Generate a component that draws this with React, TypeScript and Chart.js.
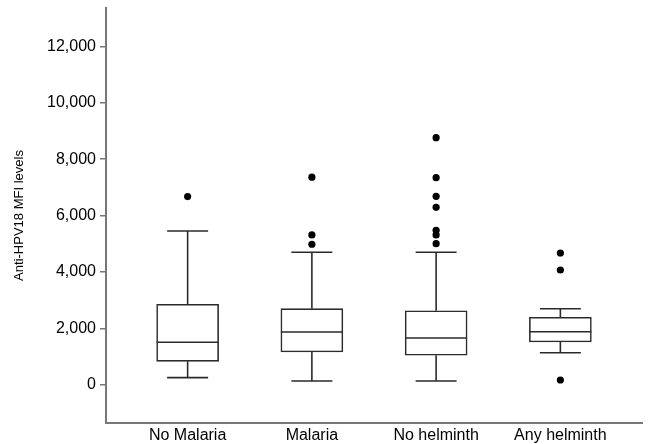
import React, { useEffect, useRef } from "react";
import { Chart, registerables } from "chart.js";

Chart.register(...registerables);

const categories = ["No Malaria", "Malaria", "No helminth", "Any helminth"];
const whiskerLow = [250, 130, 130, 1135];
const q1 = [830, 1160, 1043, 1514];
const median = [1503, 1869, 1656, 1879];
const q3 = [2851, 2695, 2624, 2390];
const whiskerHigh = [5450, 4695, 4695, 2695];
const noMalariaOutliers = [6670];
const malariaOutliers = [4980, 5310, 7360];
const noHelminthOutliers = [5000, 5310, 5475, 6290, 6680, 7340, 8760];
const anyHelminthOutliers = [167, 4067, 4670];
const yTicks = [0, 2000, 4000, 6000, 8000, 10000, 12000];

const outlierGroups = [noMalariaOutliers, malariaOutliers, noHelminthOutliers, anyHelminthOutliers];

const LINE = "#2b2b2b";
const AXIS = "#777777";

const whiskerPlugin = {
  id: "whiskers",
  afterDatasetsDraw(chart: any) {
    const { ctx, scales } = chart;
    const xs = scales.x;
    const ys = scales.y;
    ctx.save();
    ctx.strokeStyle = LINE;
    ctx.lineWidth = 1.6;
    categories.forEach((_, i) => {
      const cx = xs.getPixelForValue(i + 1);
      const capHalf = 20.5;
      const boxHalf = 31;
      const yLo = ys.getPixelForValue(whiskerLow[i]);
      const yQ1 = ys.getPixelForValue(q1[i]);
      const yMed = ys.getPixelForValue(median[i]);
      const yQ3 = ys.getPixelForValue(q3[i]);
      const yHi = ys.getPixelForValue(whiskerHigh[i]);
      ctx.beginPath();
      ctx.moveTo(cx, yQ3);
      ctx.lineTo(cx, yHi);
      ctx.moveTo(cx - capHalf, yHi);
      ctx.lineTo(cx + capHalf, yHi);
      ctx.moveTo(cx, yQ1);
      ctx.lineTo(cx, yLo);
      ctx.moveTo(cx - capHalf, yLo);
      ctx.lineTo(cx + capHalf, yLo);
      ctx.moveTo(cx - boxHalf, yMed);
      ctx.lineTo(cx + boxHalf, yMed);
      ctx.stroke();
    });
    ctx.restore();
  },
};

export default function App() {
  const ref = useRef<HTMLCanvasElement | null>(null);

  useEffect(() => {
    if (!ref.current) return;
    Chart.defaults.font.family = "'Liberation Sans', Arial, sans-serif";
    const boxData = categories.map((_, i) => ({ x: i + 1, y: [q1[i], q3[i]] }));
    const outlierData: { x: number; y: number }[] = [];
    outlierGroups.forEach((g, i) => g.forEach((v) => outlierData.push({ x: i + 1, y: v })));

    const chart = new Chart(ref.current, {
      type: "bar",
      data: {
        datasets: [
          {
            type: "bar",
            data: boxData as any,
            backgroundColor: "#ffffff",
            borderColor: LINE,
            borderWidth: 1.6,
            borderSkipped: false,
            barThickness: 62,
          } as any,
          {
            type: "scatter",
            data: outlierData,
            backgroundColor: "#000000",
            borderColor: "#000000",
            pointRadius: 3.6,
            borderWidth: 0,
          } as any,
        ],
      },
      options: {
        animation: false,
        responsive: true,
        maintainAspectRatio: false,
        layout: { padding: { top: 8, right: 13, left: 0, bottom: 0 } },
        plugins: { legend: { display: false }, tooltip: { enabled: false } },
        scales: {
          x: {
            type: "linear",
            offset: false,
            min: 0.343,
            max: 4.657,
            grid: { display: false, drawTicks: false, offset: false },
            border: { display: true, color: AXIS, width: 2 },
            afterBuildTicks: (scale: any) => {
              scale.ticks = categories.map((_, i) => ({ value: i + 1 }));
            },
            afterFit: (scale: any) => {
              scale.height = 21;
              scale.paddingLeft = 0;
              scale.paddingRight = 0;
            },
            ticks: {
              autoSkip: false,
              maxRotation: 0,
              padding: 3,
              color: "#000000",
              font: { size: 16 },
              callback: (v: any) => categories[Math.round(Number(v)) - 1] ?? "",
            },
          } as any,
          y: {
            type: "linear",
            min: -1358,
            max: 13358,
            grid: { drawOnChartArea: false, drawTicks: true, tickLength: 6, color: AXIS, lineWidth: 1.5 },
            border: { display: true, color: AXIS, width: 2 },
            afterBuildTicks: (scale: any) => {
              scale.ticks = yTicks.map((v) => ({ value: v }));
            },
            afterFit: (scale: any) => {
              scale.width = 106;
              scale.paddingTop = 0;
              scale.paddingBottom = 0;
            },
            title: {
              display: true,
              text: "Anti-HPV18 MFI levels",
              color: "#000000",
              font: { size: 13 },
              padding: { top: 12, bottom: 0 },
            },
            ticks: {
              padding: 4,
              color: "#000000",
              font: { size: 16 },
              callback: (v: any) => Number(v).toLocaleString("en-US"),
            },
          } as any,
        },
      },
      plugins: [whiskerPlugin],
    } as any);

    return () => chart.destroy();
  }, []);

  return (
    <div style={{ position: "fixed", left: 0, top: 0, width: 655, height: 444, background: "#ffffff" }}>
      <canvas ref={ref} />
    </div>
  );
}
